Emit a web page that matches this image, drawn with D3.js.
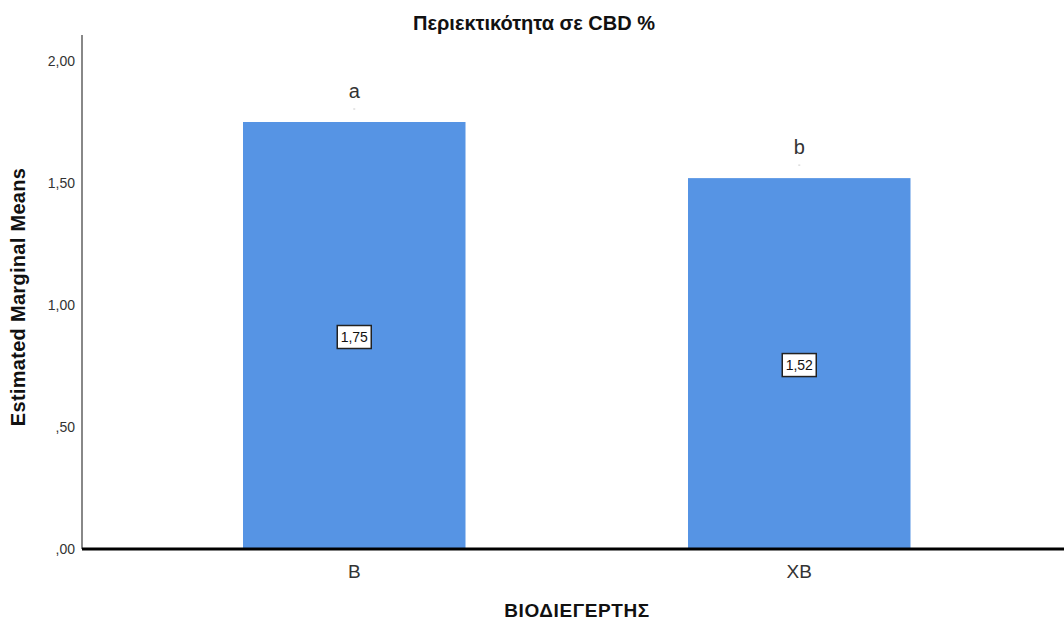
<!DOCTYPE html>
<html>
<head>
<meta charset="utf-8">
<script src="https://cdn.jsdelivr.net/npm/d3@7"></script>
<style>
  body { margin: 0; background: #fff; }
  svg { display: block; font-family: Arial, "Liberation Sans", sans-serif; }
</style>
</head>
<body>
<svg id="chart" width="1064" height="626"></svg>
<script>
// Estimated marginal means of CBD content per biostimulant level
const categories = ["B", "XB"];
const means = [1.75, 1.52];
const groupLetters = ["a", "b"];
const yTicks = [0, 0.5, 1.0, 1.5, 2.0];

const svg = d3.select("#chart");
const W = 1064, H = 626;
const FONT = "Arial, 'Liberation Sans', sans-serif";

const y = d3.scaleLinear().domain([0, 2]).range([549, 61]);
const x = d3.scaleBand().domain(categories)
  .range([131.75, 1021.75]).paddingInner(0.5).paddingOuter(0.25);

// SPSS-style decimal comma, no leading zero
const fmt = v => {
  const s = d3.format(".2f")(v).replace(".", ",");
  return s.startsWith("0,") ? s.slice(1) : s;
};

// Title
svg.append("text").attr("x", 534).attr("y", 30).attr("text-anchor", "middle")
  .attr("font-size", 20).attr("font-weight", "bold").attr("fill", "#111")
  .text("Περιεκτικότητα σε CBD %");

// Bars
svg.selectAll("rect.bar").data(categories).join("rect")
  .attr("class", "bar")
  .attr("x", d => x(d))
  .attr("y", (d, i) => y(means[i]))
  .attr("width", x.bandwidth())
  .attr("height", (d, i) => y(0) - y(means[i]))
  .attr("fill", "#5694e4");

// Y axis
const yAxis = d3.axisLeft(y).tickValues(yTicks).tickSize(0).tickPadding(7).tickFormat(fmt);
const gy = svg.append("g").attr("transform", "translate(82,0)").call(yAxis);
gy.select(".domain").remove();
gy.attr("font-size", 14).attr("font-family", FONT);
gy.selectAll("text").attr("fill", "#333");
svg.append("line").attr("x1", 82).attr("x2", 82).attr("y1", 35).attr("y2", 549)
  .attr("stroke", "#888").attr("stroke-width", 2);

// X axis
const xAxis = d3.axisBottom(x).tickSize(0).tickPadding(16);
const gx = svg.append("g").attr("transform", `translate(0,${y(0)})`).call(xAxis);
gx.select(".domain").remove();
gx.attr("font-size", 19).attr("font-family", FONT);
gx.selectAll("text").attr("fill", "#333");
svg.append("line").attr("x1", 82).attr("x2", W).attr("y1", y(0)).attr("y2", y(0))
  .attr("stroke", "#000").attr("stroke-width", 3);

// Axis titles
svg.append("text").attr("transform", "translate(25,297) rotate(-90)")
  .attr("text-anchor", "middle").attr("font-size", 20).attr("font-weight", "bold")
  .attr("letter-spacing", 0.3).attr("fill", "#111")
  .text("Estimated Marginal Means");
svg.append("text").attr("x", 577).attr("y", 617).attr("text-anchor", "middle")
  .attr("font-size", 19).attr("font-weight", "bold").attr("letter-spacing", 0.6)
  .attr("fill", "#111").text("ΒΙΟΔΙΕΓΕΡΤΗΣ");

// Group letters above bars
svg.selectAll("text.letter").data(categories).join("text")
  .attr("class", "letter")
  .attr("x", d => x(d) + x.bandwidth() / 2)
  .attr("y", (d, i) => y(means[i]) - 24)
  .attr("text-anchor", "middle").attr("font-size", 20).attr("fill", "#333")
  .text((d, i) => groupLetters[i]);

// Faint cap mark under each letter
svg.selectAll("line.cap").data(categories).join("line")
  .attr("class", "cap")
  .attr("x1", d => x(d) + x.bandwidth() / 2 - 1)
  .attr("x2", d => x(d) + x.bandwidth() / 2 + 1)
  .attr("y1", (d, i) => y(means[i]) - 13)
  .attr("y2", (d, i) => y(means[i]) - 13)
  .attr("stroke", "#ccc").attr("stroke-width", 1);

// Value labels in the middle of each bar
const lab = svg.selectAll("g.val").data(categories).join("g")
  .attr("class", "val")
  .attr("transform", (d, i) => `translate(${x(d) + x.bandwidth() / 2},${(y(means[i]) + y(0)) / 2 + 1.5})`);
lab.append("rect").attr("x", -17).attr("y", -11.5).attr("width", 34).attr("height", 23)
  .attr("fill", "#fff").attr("stroke", "#222").attr("stroke-width", 1.5);
lab.append("text").attr("text-anchor", "middle").attr("dy", "0.36em")
  .attr("font-size", 14).attr("fill", "#111")
  .text((d, i) => fmt(means[i]));
</script>
</body>
</html>
